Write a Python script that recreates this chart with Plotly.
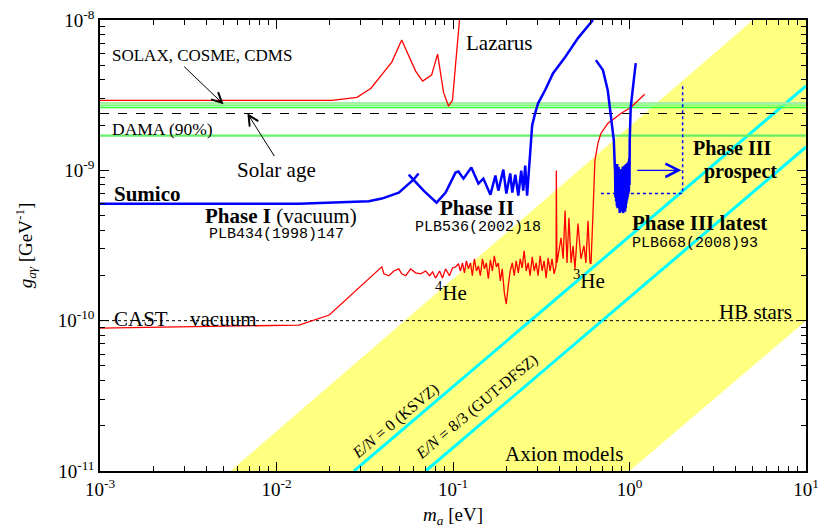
import math
import plotly.graph_objects as go

# ---------------- data (m_a in eV, g in GeV^-1) ----------------
band_m = [0.0055, 5.0, 10.0, 10.0, 1.0, 0.0055]
band_g = [1e-11, 1e-8, 1e-8, 1e-10, 1e-11, 1e-11]

ksvz_m = [0.0275, 10.0]
ksvz_g = [1e-11, 3.64e-9]
dfsz_m = [0.070, 10.0]
dfsz_g = [1e-11, 1.43e-9]

span_m = [1e-3, 10.0]
solax_g = [2.80e-9, 2.71e-9, 2.62e-9]
dama_g = 1.70e-9
solar_age_g = 2.39e-9
hb_g = 1.0e-10

lazarus_m = [1e-3, 0.0206, 0.0286, 0.0343, 0.045, 0.0512, 0.0614, 0.0673, 0.0756,
             0.0818, 0.0884, 0.0944, 0.0993, 0.106, 0.1088]
lazarus_g = [2.92e-9, 2.92e-9, 3.06e-9, 3.52e-9, 5.25e-9, 7.35e-9, 4.57e-9, 3.92e-9, 4.30e-9,
             5.93e-9, 3.30e-9, 2.67e-9, 2.92e-9, 7.35e-9, 1.0e-8]

phase1_m = [1e-3, 0.0134, 0.0333, 0.0395, 0.0493, 0.0599, 0.0638]
phase1_g = [6.0e-10, 6.0e-10, 6.22e-10, 6.49e-10, 7.11e-10, 8.69e-10, 9.53e-10]

phase2_m = [0.0561, 0.0682, 0.0807, 0.0908, 0.1033, 0.1074, 0.1146, 0.127, 0.1393, 0.1486,
            0.163, 0.1738, 0.1807, 0.1928, 0.2005, 0.211, 0.2168, 0.2254, 0.2344, 0.2435,
            0.250, 0.2565, 0.263, 0.2703, 0.2773, 0.2808, 0.2918, 0.3034, 0.3324, 0.369,
            0.4315, 0.5108, 0.621]
phase2_g = [9.37e-10, 7.33e-10, 6.10e-10, 7.11e-10, 9.66e-10, 9.81e-10, 8.81e-10, 1.044e-9, 8.17e-10, 8.81e-10,
            6.89e-10, 9.23e-10, 7.33e-10, 1.012e-9, 7.0e-10, 9.53e-10, 7.11e-10, 9.37e-10, 6.79e-10, 9.97e-10,
            7.33e-10, 1.077e-9, 6.79e-10, 1.044e-9, 1.656e-9, 1.99e-9, 2.39e-9, 2.79e-9, 3.41e-9, 4.43e-9,
            5.66e-9, 7.58e-9, 1.0e-8]

phase3_m = [0.645, 0.707, 0.753, 0.783, 0.815, 0.826,
            0.828, 0.832, 0.836, 0.840, 0.844, 0.848, 0.852, 0.856, 0.860, 0.864, 0.868,
            0.872, 0.876, 0.880, 0.884, 0.888, 0.892, 0.896, 0.900, 0.904, 0.908, 0.912,
            0.916, 0.920, 0.924, 0.928, 0.932, 0.936, 0.940, 0.944, 0.948, 0.952, 0.956,
            0.960, 0.964, 0.968, 0.972, 0.976, 0.980, 0.984, 0.988, 0.992, 0.996, 1.000,
            1.003, 1.016, 1.057, 1.085]
phase3_g = [5.41e-9, 4.64e-9, 3.41e-9, 2.39e-9, 1.58e-9, 1.04e-9,
            1.04e-9, 6.6e-10, 1.08e-9, 6.2e-10, 1.0e-9, 5.8e-10, 1.1e-9, 5.6e-10, 9.5e-10, 6.0e-10, 1.05e-9,
            5.3e-10, 9.0e-10, 5.2e-10, 1.0e-9, 5.6e-10, 8.8e-10, 5.3e-10, 1.02e-9, 5.8e-10, 9.2e-10, 5.4e-10,
            1.06e-9, 5.2e-10, 9.6e-10, 5.5e-10, 1.0e-9, 5.9e-10, 1.08e-9, 5.3e-10, 9.4e-10, 5.6e-10, 1.1e-9,
            6.0e-10, 1.0e-9, 6.3e-10, 1.12e-9, 6.6e-10, 1.05e-9, 6.9e-10, 1.15e-9, 7.2e-10, 1.2e-9, 8.0e-10,
            1.58e-9, 2.62e-9, 3.97e-9, 5.16e-9]

prospect_m = [0.689, 2.0, 2.0]
prospect_g = [7.0e-10, 7.0e-10, 3.79e-9]

cast_m = [1e-3, 0.0134, 0.0199, 0.0395, 0.0406, 0.0433, 0.0462, 0.0493, 0.0512, 0.054,
          0.0575, 0.0614, 0.0656, 0.070, 0.0737, 0.0766, 0.0796, 0.0839, 0.0872, 0.0908,
          0.0955, 0.0993, 0.1033,
          0.1074, 0.1102, 0.1132, 0.1161, 0.1191, 0.1222, 0.1255, 0.1288, 0.1321, 0.1358,
          0.1393, 0.1429, 0.1469, 0.1507, 0.1545, 0.1585, 0.1629, 0.1671, 0.1714, 0.1762,
          0.1807, 0.1854, 0.1901, 0.1954, 0.2004, 0.2056, 0.2109, 0.2168, 0.2223, 0.2280,
          0.2344, 0.2404, 0.2466, 0.2529, 0.2600, 0.2667, 0.2735, 0.2812, 0.2884, 0.2958,
          0.3034, 0.3119, 0.3199, 0.3281, 0.3373, 0.3459, 0.3548, 0.3639, 0.3741, 0.3837,
          0.385, 0.388,
          0.4093, 0.4207, 0.4315, 0.4426, 0.4539, 0.4667, 0.4786, 0.4909, 0.5105, 0.5309,
          0.5521, 0.5662, 0.5821, 0.5970, 0.6053, 0.6209, 0.6286, 0.6368, 0.6622, 0.6887,
          0.7534, 0.8933, 1.016, 1.219]
cast_g = [8.93e-11, 9.35e-11, 1.09e-10, 2.28e-10, 2.05e-10, 1.99e-10, 2.14e-10, 2.21e-10, 2.05e-10, 1.99e-10,
          2.21e-10, 2.08e-10, 2.05e-10, 2.14e-10, 1.99e-10, 2.11e-10, 1.92e-10, 2.14e-10, 1.92e-10, 2.21e-10,
          1.99e-10, 2.24e-10, 2.28e-10,
          2.39e-10, 2.14e-10, 2.42e-10, 2.08e-10, 2.50e-10, 2.21e-10, 2.42e-10, 1.99e-10, 2.58e-10, 2.14e-10,
          2.31e-10, 1.99e-10, 2.58e-10, 2.21e-10, 2.42e-10, 1.90e-10, 2.54e-10, 2.14e-10, 2.70e-10, 2.28e-10,
          2.42e-10, 1.84e-10, 2.21e-10, 1.53e-10, 1.29e-10, 1.70e-10, 2.14e-10, 2.42e-10, 1.99e-10, 2.50e-10,
          2.08e-10, 2.58e-10, 2.24e-10, 2.92e-10, 2.14e-10, 2.42e-10, 1.99e-10, 2.66e-10, 2.14e-10, 2.42e-10,
          1.99e-10, 2.70e-10, 2.14e-10, 2.50e-10, 1.92e-10, 2.62e-10, 2.14e-10, 2.58e-10, 2.05e-10, 2.31e-10,
          9.97e-10, 2.42e-10,
          3.56e-10, 2.58e-10, 5.40e-10, 2.42e-10, 4.84e-10, 2.42e-10, 3.15e-10, 2.21e-10, 4.42e-10, 2.58e-10,
          3.15e-10, 2.42e-10, 4.62e-10, 2.42e-10, 2.39e-10, 5.15e-10, 7.93e-10, 1.16e-9, 1.51e-9, 1.76e-9,
          2.05e-9, 2.39e-9, 2.62e-9, 3.21e-9]

x_tick_vals = [1e-3, 1e-2, 1e-1, 1e0, 1e1]
x_tick_text = ["10<sup>-3</sup>", "10<sup>-2</sup>", "10<sup>-1</sup>", "10<sup>0</sup>", "10<sup>1</sup>"]
y_tick_vals = [1e-11, 1e-10, 1e-9, 1e-8]
y_tick_text = ["10<sup>-11</sup>", "10<sup>-10</sup>", "10<sup>-9</sup>", "10<sup>-8</sup>"]

# ---------------- figure ----------------
SERIF = "Liberation Serif, Times New Roman, serif"
MONO = "Liberation Mono, Courier New, monospace"

fig = go.Figure()


def line(x, y, color, width, dash="solid", fill=None, fillcolor=None):
    fig.add_trace(go.Scatter(x=x, y=y, mode="lines", fill=fill, fillcolor=fillcolor,
                             line=dict(color=color, width=width, dash=dash),
                             hoverinfo="skip", showlegend=False))


line(band_m, band_g, "rgba(0,0,0,0)", 0, fill="toself", fillcolor="#ffff80")
line(ksvz_m, ksvz_g, "#00ffff", 3)
line(dfsz_m, dfsz_g, "#00ffff", 3)

line(span_m, [hb_g, hb_g], "black", 1, dash="dot")
line(span_m, [solax_g[0]] * 2, "#a8f0a8", 2)
line(span_m, [solax_g[1]] * 2, "#80ff80", 2)
line(span_m, [solax_g[2]] * 2, "#33ff33", 1.6)
line(span_m, [dama_g] * 2, "#66f066", 2.2)
line(span_m, [solar_age_g] * 2, "black", 1.1, dash="dash")

line(lazarus_m, lazarus_g, "#ff0000", 1.3)
line(cast_m, cast_g, "#ff0000", 1.3)

line(phase1_m, phase1_g, "#0000ff", 2.5)
line(phase2_m, phase2_g, "#0000ff", 2.5)
line(phase3_m, phase3_g, "#0000ff", 2.5)
line(prospect_m, prospect_g, "#0000ff", 1.5, dash="dot")

L = math.log10
annotations = []


def text(t, m, g, xanchor="center", size=21, family=SERIF, angle=0):
    annotations.append(dict(text=t, x=L(m), y=L(g), xref="x", yref="y", showarrow=False,
                            xanchor=xanchor, yanchor="middle", textangle=angle,
                            font=dict(family=family, size=size, color="black")))


def arrow(m_head, g_head, m_tail, g_tail, color="black", width=1.0):
    annotations.append(dict(text="", x=L(m_head), y=L(g_head), ax=L(m_tail), ay=L(g_tail),
                            xref="x", yref="y", axref="x", ayref="y", showarrow=True,
                            arrowhead=5, arrowsize=2, arrowwidth=width, arrowcolor=color,
                            standoff=0, startstandoff=0))


text("SOLAX, COSME, CDMS", 1.14e-3, 5.83e-9, "left", 17)
text("DAMA (90%)", 1.14e-3, 1.87e-9, "left", 17.5)
text("Solar age", 1.0e-2, 1.01e-9)
text("Lazarus", 0.183, 7.0e-9)
text("<b>Sumico</b>", 1.17e-3, 7.0e-10, "left")
text("<b>Phase I</b> (vacuum)", 3.81e-3, 4.99e-10, "left")
text("PLB434(1998)147", 4.02e-3, 3.72e-10, "left", 15, MONO)
text("<b>Phase II</b>", 0.137, 5.65e-10)
text("PLB536(2002)18", 0.139, 4.15e-10, "center", 15, MONO)
text("<b>Phase III latest</b>", 1.0, 4.48e-10, "left")
text("PLB668(2008)93", 1.0, 3.24e-10, "left", 15, MONO)
text("<b>Phase III</b>", 3.83, 1.40e-9, "center", 20)
text("<b>prospect</b>", 4.28, 0.98e-9, "center", 20)
text("<sup>4</sup>He", 0.098, 1.57e-10)
text("<sup>3</sup>He", 0.589, 1.87e-10)
text("HB stars", 8.56, 1.14e-10, "right")
text("CAST", 1.17e-3, 1.02e-10, "left")
text("vacuum", 4.98e-3, 1.02e-10)
text("Axion models", 0.426, 1.29e-11)
text("<i>E/N</i> = 0 (KSVZ)", 0.0474, 2.14e-11, "center", 16, SERIF, -40)
text("<i>E/N</i> = 8/3 (GUT-DFSZ)", 0.136, 2.65e-11, "center", 16, SERIF, -40)

arrow(10 ** -2.300, 10 ** -8.561, 10 ** -2.532, 10 ** -8.300)
arrow(10 ** -2.165, 10 ** -8.621, 10 ** -2.007, 10 ** -8.915)
arrow(1.97, 1.0e-9, 1.085, 1.0e-9, color="#0000ff", width=1.3)

minor_x = [k * 10.0 ** e for e in range(-3, 1) for k in range(2, 10)]
minor_y = [k * 10.0 ** e for e in range(-11, -8) for k in range(2, 10)]

axis_common = dict(type="log", showline=True, linecolor="black", linewidth=1.5, mirror="ticks",
                   ticks="inside", ticklen=9, tickwidth=1.3, tickcolor="black",
                   showgrid=False, zeroline=False, ticklabeloverflow="allow",
                   tickfont=dict(family=SERIF, size=19, color="black"))

fig.update_layout(
    width=822, height=528,
    margin=dict(l=100, r=3, t=20, b=57),
    paper_bgcolor="white", plot_bgcolor="white",
    showlegend=False, hovermode=False,
    annotations=annotations,
    xaxis=dict(axis_common, range=[-3, 1], tickmode="array", tickvals=x_tick_vals, ticktext=x_tick_text,
               minor=dict(tickmode="array", tickvals=minor_x, ticks="inside", ticklen=5,
                          tickwidth=1, tickcolor="black", showgrid=False),
               title=dict(text="<i>m</i><sub><i>a</i></sub> [eV]", standoff=9,
                          font=dict(family=SERIF, size=19, color="black"))),
    yaxis=dict(axis_common, range=[-11, -8], tickmode="array", tickvals=y_tick_vals, ticktext=y_tick_text,
               minor=dict(tickmode="array", tickvals=minor_y, ticks="inside", ticklen=5,
                          tickwidth=1, tickcolor="black", showgrid=False),
               title=dict(text="<i>g</i><sub><i>aγ</i></sub> [GeV<sup>-1</sup>]", standoff=20,
                          font=dict(family=SERIF, size=19, color="black"))),
)

fig.write_html("out.html")
